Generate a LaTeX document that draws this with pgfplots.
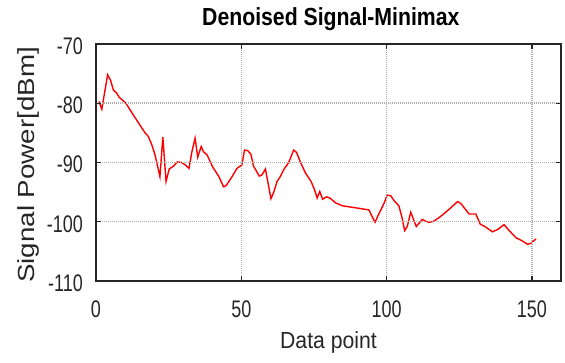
\documentclass[border=0pt]{standalone}
\usepackage{fontspec}
\usepackage{pgfplots}
\pgfplotsset{compat=1.18}
\setmainfont{Liberation Sans}
\newfontfamily\tickf[FakeStretch=0.75]{Liberation Sans}
\newfontfamily\titlef[FakeStretch=0.86]{Liberation Sans}
\newfontfamily\xlabf[FakeStretch=0.91]{Liberation Sans}
\newfontfamily\ylabf[FakeStretch=1.19]{Liberation Sans}
\definecolor{frame}{RGB}{38,38,38}
\begin{document}
\begin{tikzpicture}
\begin{axis}[
  scale only axis, width=465pt, height=237pt,
  xmin=0, xmax=160, ymin=-110, ymax=-70,
  xtick={0,50,100,150}, ytick={-110,-100,-90,-80,-70},
  tick align=inside, major tick length=5pt,
  xtick pos=both, ytick pos=both,
  grid=major,
  major grid style={draw=black!32, line width=1.5pt, dash pattern=on 1pt off 1pt},
  axis line style={draw=frame, line width=1.3pt},
  every tick/.style={draw=frame, line width=1.3pt},
  axis on top,
  /pgf/number format/assume math mode=true,
  ticklabel style={font=\tickf\fontsize{24}{26}\selectfont, text=frame},
  xticklabel style={anchor=base, inner sep=0pt, yshift=-36.3pt},
  yticklabel style={anchor=east, inner sep=0pt, xshift=-13pt, yshift=-2pt},
  title={Denoised Signal-Minimax},
  title style={font=\titlef\bfseries\fontsize{24.7}{27}\selectfont, at={(axis description cs:0.505,1.0519)}, anchor=base, inner sep=0pt},
  xlabel={Data point},
  xlabel style={font=\xlabf\fontsize{23.3}{25}\selectfont, text=frame, at={(axis description cs:0.5,-0.284)}, anchor=base, inner sep=0pt},
  ylabel={Signal Power[dBm]},
  ylabel style={font=\ylabf\fontsize{23.3}{25}\selectfont, text=frame, at={(axis description cs:-0.1312,0.4895)}, anchor=base, inner sep=0pt, rotate=0},
]
\addplot[red, line width=1.4pt] coordinates {
(1,-79.7) (2,-81.0) (4,-75.2) (5,-76.1) (6,-77.8) (7,-78.2) (8,-79.0) (9.4,-79.6) (10.3,-80.0) (11.7,-81.1) (13.4,-82.4) (15.8,-84.2) (16.9,-85.0) (18,-85.6) (19.2,-87.0) (20.3,-88.7) (22,-92.4) (23,-85.7) (24.1,-93.2) (25.2,-91.1) (26.7,-90.6) (28,-89.9) (29.5,-90.0) (30.7,-90.4) (32,-91.0) (33,-88.2) (34.1,-85.9) (35,-89.1) (36.2,-87.3) (37,-88.2) (38.2,-88.7) (40.2,-90.8) (42.2,-92.3) (43.9,-94.1) (44.8,-93.9) (46.8,-92.4) (48.5,-91.0) (50.2,-90.4) (51.1,-87.9) (52.2,-88.0) (53.3,-88.6) (54.2,-90.6) (56.2,-92.3) (57.1,-92.1) (58.3,-91.1) (60.2,-96.1) (61.1,-95.1) (62.3,-93.2) (63.4,-92.4) (64.6,-91.2) (66.3,-90.0) (68,-87.9) (69,-88.3) (70.3,-89.9) (72.1,-91.8) (74,-93.2) (75.2,-94.6) (76.1,-96.0) (77,-94.9) (78,-96.2) (79.3,-95.8) (80.5,-96.0) (82.4,-96.8) (84.7,-97.3) (88.7,-97.6) (93.9,-98.0) (96,-100.1) (97.4,-98.6) (99.1,-96.9) (100.2,-95.5) (101.4,-95.6) (102.5,-96.4) (104.2,-97.3) (105.2,-99.1) (106.2,-101.5) (107.1,-100.8) (108.3,-98.4) (110.2,-100.8) (112.3,-99.6) (113.4,-99.9) (114.6,-100.1) (116.3,-99.9) (118.6,-99.1) (121.5,-97.9) (124.4,-96.6) (125.5,-96.9) (128.4,-98.7) (130.7,-98.7) (132.2,-100.4) (134.1,-100.9) (136.4,-101.7) (138.2,-101.3) (140.4,-100.5) (142.2,-101.5) (144.5,-102.7) (146.2,-103.1) (148.5,-103.8) (149.7,-103.6) (151.4,-102.9)
};
\end{axis}
\pgfresetboundingbox
\path[use as bounding box] ([xshift=-96pt,yshift=-82pt]current axis.south west) rectangle ([xshift=4pt,yshift=44pt]current axis.north east);
\end{tikzpicture}
\end{document}
